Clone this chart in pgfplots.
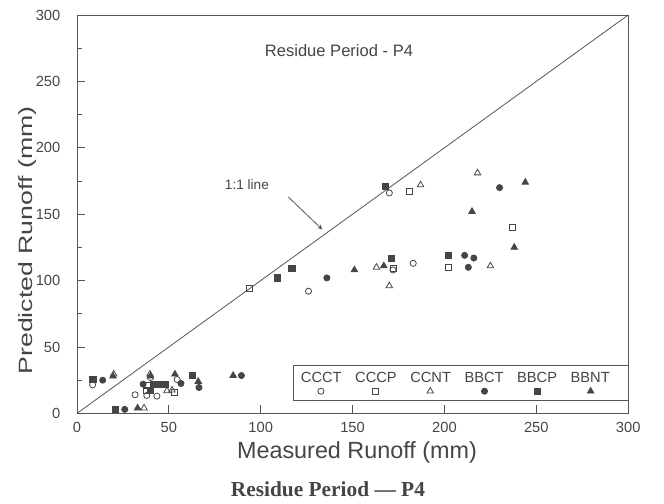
\documentclass[border=0pt]{standalone}
\usepackage{pgfplots}
\pgfplotsset{compat=1.18}
\usepackage{fontspec}
\setmainfont{Liberation Sans}
\newfontfamily\capfont{Liberation Serif}
\definecolor{ink}{HTML}{454545}
\definecolor{axgray}{HTML}{555555}
\begin{document}
\begin{tikzpicture}
\begin{axis}[
  scale only axis, width=413pt, height=298.5pt,
  xmin=0, xmax=300, ymin=0, ymax=300,
  xtick={0,50,...,300}, ytick={0,50,...,300},
  minor ytick={25,75,...,275},
  tick align=inside, xtick pos=bottom, ytick pos=left,
  major tick length=6pt, minor tick length=4pt,
  axis line style={axgray, line width=0.6pt},
  every tick/.style={axgray, line width=0.6pt},
  tick label style={font=\fontsize{11}{13}\selectfont, text=ink},
  /pgf/number format/assume math mode=true,
  yticklabel style={xshift=-9pt},
  xticklabel style={yshift=-3pt},
  xlabel={Measured Runoff (mm)},
  ylabel={\scalebox{1}[0.72]{Predicted Runoff (mm)}},
  xlabel style={font=\fontsize{17.5}{20}\selectfont, text=ink, at={(rel axis cs:0.508,-0.098)}, anchor=center},
  ylabel style={font=\fontsize{20}{22}\selectfont, text=ink, at={(rel axis cs:-0.090,0.434)}, anchor=center},
  clip=false,
  every axis plot/.append style={ink, line width=0.6pt, mark size=2.3pt},
  legend columns=6,
  legend style={at={(0.392,0.1206)}, anchor=north west, draw=axgray, line width=0.6pt,
    font=\fontsize{11}{13}\selectfont, text=ink, inner ysep=3pt, inner xsep=3pt,
    /tikz/every even column/.append style={column sep=5.5pt}},
  legend image code/.code={\path (0,0) (0,-13pt); \draw[#1,overlay] plot coordinates {(17.3pt,-9.5pt)};},
]
\addplot[axgray, line width=0.6pt, forget plot] coordinates {(0,0) (300,300)};

\addplot[only marks, mark=o] coordinates {
(8.5,21.5) (31.6,14) (38,13.5) (43.5,13) (40,27) (54.5,25.5) (126,92) (170,166) (172,108) (183,113)};
\addlegendentry{CCCT}
\addplot[only marks, mark=square] coordinates {
(8.5,25.5) (38.5,21) (38,17) (53,16) (94,94) (181,167) (172,109) (202,110) (237,140)};
\addlegendentry{CCCP}
\addplot[only marks, mark=triangle, mark size=2.8pt] coordinates {
(20,29.5) (39.7,29.5) (36.5,4) (49,17) (51.7,17.5) (163,110) (170,96) (187,172) (218,181) (225,111)};
\addlegendentry{CCNT}
\addplot[only marks, mark=*, fill=ink] coordinates {
(14,25) (26,3) (36,22) (56.6,22.5) (66.4,19.5) (89.5,28.5) (136,102) (211,119) (216,117) (213,110) (230,170)};
\addlegendentry{BBCT}
\addplot[only marks, mark=square*, fill=ink] coordinates {
(9,25.5) (21,3) (41.5,22) (45,21.5) (48,21.5) (40,17) (63,28.5) (109,102) (117,109) (168,171) (171,117) (202,119)};
\addlegendentry{BBCP}
\addplot[only marks, mark=triangle*, fill=ink, mark size=2.8pt] coordinates {
(19.6,28) (33,4) (40,28) (53.3,29.5) (66,24) (85,28.5) (151,108) (167,111) (215,152) (238,125) (244,174)};
\addlegendentry{BBNT\hspace*{9pt}}

\node[font=\fontsize{12.4}{14}\selectfont, text=ink] at (axis cs:142.6,273) {Residue Period - P4};
\node[font=\fontsize{10.2}{12}\selectfont, text=ink] at (axis cs:92.5,172) {1:1 line};
\draw[axgray, line width=0.6pt, -stealth] (axis cs:115,163) -- (axis cs:133.5,138.5);
\node[font=\capfont\bfseries\fontsize{16}{18}\selectfont, text=ink] at (axis cs:136.6,-57.1) {Residue Period — P4};
\path (axis cs:-41.9,-67.7) rectangle (axis cs:319.5,311.3);
\end{axis}
\end{tikzpicture}
\end{document}
